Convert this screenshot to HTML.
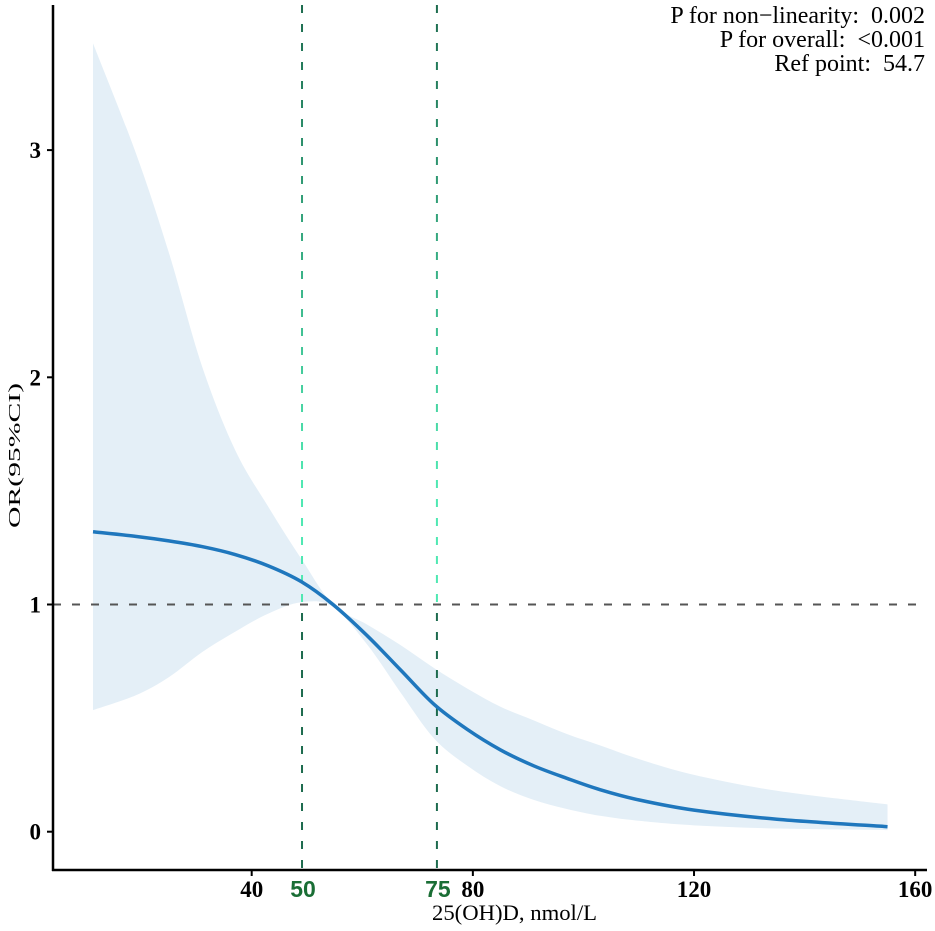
<!DOCTYPE html>
<html><head><meta charset="utf-8"><style>
html,body{margin:0;padding:0;background:#fff;}
svg{display:block;}
text{font-family:"Liberation Serif",serif;white-space:pre;}
</style></head><body>
<svg id="chart" width="935" height="931" viewBox="0 0 935 931">
<defs>
<linearGradient id="vg" x1="0" y1="0" x2="0" y2="1" gradientUnits="objectBoundingBox">
<stop offset="0" stop-color="#1d6b4e"/>
<stop offset="0.55" stop-color="#4fe8b2"/>
<stop offset="0.69" stop-color="#4fe8b2"/>
<stop offset="0.695" stop-color="#1d6b4e"/>
<stop offset="1" stop-color="#1d6b4e"/>
</linearGradient>
</defs>
<g id="plot"></g>
</svg>
<script>
const xValues=[11.3,19,25,31,37,43,49,54.7,61,67,73,79,85,91,97,103,110,120,135,155];
const orValues=[1.32,1.30,1.28,1.255,1.22,1.17,1.10,1.0,0.86,0.71,0.56,0.45,0.36,0.29,0.235,0.185,0.14,0.095,0.055,0.022];
const upperCI=[3.47,2.99,2.55,2.05,1.68,1.43,1.20,1.0,0.91,0.82,0.72,0.63,0.55,0.49,0.43,0.38,0.32,0.25,0.18,0.12];
const lowerCI=[0.535,0.60,0.68,0.79,0.88,0.96,1.01,0.99,0.82,0.61,0.41,0.29,0.20,0.14,0.10,0.07,0.048,0.028,0.014,0.007];
const xTicks=[40,80,120,160];
const yTicks=[0,1,2,3];
const cutoffs=[49.1,73.5];
const cutoffLabels=["50","75"];
const refValue=1;

const NS="http://www.w3.org/2000/svg";
const g=document.getElementById('plot');
const X=v=>251.7+(v-40)*5.529;
const Y=v=>831.7-v*227.2;
function mk(tag,attrs,parent){const e=document.createElementNS(NS,tag);for(const k in attrs)e.setAttribute(k,attrs[k]);(parent||g).appendChild(e);return e;}
function smooth(pts){let d=`M${pts[0][0]},${pts[0][1]}`;for(let i=0;i<pts.length-1;i++){const p0=pts[Math.max(0,i-1)],p1=pts[i],p2=pts[i+1],p3=pts[Math.min(pts.length-1,i+2)];const c1=[p1[0]+(p2[0]-p0[0])/6,p1[1]+(p2[1]-p0[1])/6],c2=[p2[0]-(p3[0]-p1[0])/6,p2[1]-(p3[1]-p1[1])/6];d+=` C${c1[0]},${c1[1]} ${c2[0]},${c2[1]} ${p2[0]},${p2[1]}`;}return d;}

const up=xValues.map((x,i)=>[X(x),Y(upperCI[i])]);
const lo=xValues.map((x,i)=>[X(x),Y(lowerCI[i])]).reverse();
let rd=smooth(up)+' L'+lo[0][0]+','+lo[0][1]+smooth(lo).replace(/^M[^C]*/,' ')+' Z';
const rib=mk('path',{d:rd,fill:'#e4eff7',stroke:'none'});



const hl=mk('line',{x1:53,x2:927,y1:Y(refValue),y2:Y(refValue),stroke:'#555',"stroke-width":2,"stroke-dasharray":"8 11"});



const defs=document.querySelector('defs');
const m=mk('mask',{id:'dm',maskUnits:'userSpaceOnUse',x:0,y:0,width:935,height:931},defs);
for(let y=5;y<870;y+=19){mk('rect',{x:0,y:y,width:935,height:8,fill:'#fff'},m);}
cutoffs.forEach((c,i)=>{
 const l=mk('rect',{x:X(c)-1,y:5,width:2,height:865,fill:'url(#vg)',mask:'url(#dm)'});
 
 
});

const cv=mk('path',{d:smooth(xValues.map((x,i)=>[X(x),Y(orValues[i])])),fill:'none',stroke:'#1f77bd',"stroke-width":3.5});



const ya=mk('line',{x1:53,x2:53,y1:5,y2:871,stroke:'#000',"stroke-width":2.5});


const xa=mk('line',{x1:52,x2:927,y1:870,y2:870,stroke:'#000',"stroke-width":2.5});



yTicks.forEach(t=>{
 mk('line',{x1:47,x2:53,y1:Y(t),y2:Y(t),stroke:'#000',"stroke-width":2});
 const tx=mk('text',{x:41,y:Y(t)+8,"text-anchor":"end","font-size":23,"font-weight":"bold"});
 tx.textContent=t;
 
 
});
xTicks.forEach(t=>{
 mk('line',{x1:X(t),x2:X(t),y1:870,y2:876,stroke:'#000',"stroke-width":2});
 const tx=mk('text',{x:X(t),y:897,"text-anchor":"middle","font-size":23,"font-weight":"bold"});
 tx.textContent=t;
 
 
});
cutoffs.forEach((c,i)=>{
 const tx=mk('text',{x:X(c)+1,y:897,"text-anchor":"middle","font-size":23,"font-weight":"bold",fill:"#1a6e35"});
 tx.style.fontFamily='"Liberation Sans",sans-serif';
 tx.textContent=cutoffLabels[i];
 
 
});
const xt=mk('text',{x:432,y:920,"font-size":22,textLength:165,lengthAdjust:"spacingAndGlyphs"});
xt.textContent='25(OH)D, nmol/L';


const yt=mk('text',{x:-528,y:20,"font-size":17,textLength:145,lengthAdjust:"spacingAndGlyphs",transform:"rotate(-90)"});
yt.textContent='OR(95%CI)';


const ann=['P for non\u2212linearity:  0.002','P for overall:  <0.001','Ref point:  54.7'];
ann.forEach((s,i)=>{
 const tx=mk('text',{x:925,y:23+i*24,"text-anchor":"end","font-size":24});
 tx.textContent=s;
 
 
});
</script>
</body></html>
